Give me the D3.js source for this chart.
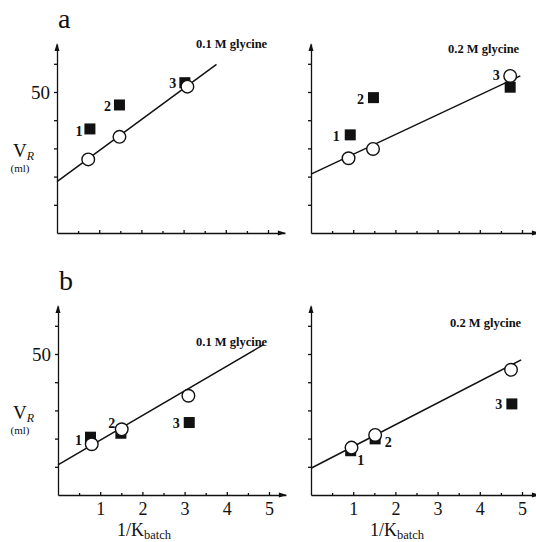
<!DOCTYPE html>
<html>
<head>
<meta charset="utf-8" />
<script src="https://d3js.org/d3.v7.min.js"></script>
<style>
  body { margin: 0; background: #fff; }
  svg text { font-family: "Liberation Serif", "Times New Roman", serif !important; fill: #111; }
</style>
</head>
<body>
<div id="chart"></div>
<script>
// axis ticks
const xTicks = [1, 2, 3, 4, 5];
const xMinorTicks = [0.5, 1.5, 2.5, 3.5, 4.5];
const yTicks = [10, 20, 30, 40, 50, 60];
const yLabelTicks = [50];
const pointNames = ["1", "2", "3"];

// a, 0.1 M glycine
const a1CircleX = [0.74, 1.48, 3.09];
const a1CircleY = [26.1, 34.1, 51.9];
const a1SquareX = [0.78, 1.48, 3.03];
const a1SquareY = [36.9, 45.4, 53.3];
const a1FitX = [0, 3.78];
const a1FitY = [18.2, 59.8];

// a, 0.2 M glycine
const a2CircleX = [0.89, 1.47, 4.72];
const a2CircleY = [26.5, 29.8, 55.7];
const a2SquareX = [0.93, 1.48, 4.72];
const a2SquareY = [34.8, 48.0, 51.7];
const a2FitX = [0, 4.96];
const a2FitY = [20.9, 55.7];

// b, 0.1 M glycine
const b1CircleX = [0.80, 1.51, 3.09];
const b1CircleY = [18.0, 23.3, 35.2];
const b1SquareX = [0.77, 1.49, 3.11];
const b1SquareY = [20.5, 21.9, 25.7];
const b1FitX = [0, 4.87];
const b1FitY = [10.7, 53.3];

// b, 0.2 M glycine
const b2CircleX = [0.96, 1.52, 4.74];
const b2CircleY = [16.8, 21.3, 44.4];
const b2SquareX = [0.94, 1.52, 4.76];
const b2SquareY = [15.7, 19.9, 32.3];
const b2FitX = [0, 4.98];
const b2FitY = [9.5, 47.9];

const zip = (xs, ys) => xs.map((x, i) => [x, ys[i]]);

// layout of the four panels (pixels)
const panels = [
  { letter: "a", title: "0.1 M glycine", left: 57, bottom: 233, yLabels: true, xLabels: false,
    titleX: 196, titleY: 48,
    circles: zip(a1CircleX, a1CircleY), squares: zip(a1SquareX, a1SquareY), fit: zip(a1FitX, a1FitY),
    labels: [{ on: "s", dx: -11, dy: 2 }, { on: "s", dx: -12, dy: 1 }, { on: "s", dx: -12, dy: 0 }] },
  { letter: null, title: "0.2 M glycine", left: 311, bottom: 233, yLabels: false, xLabels: false,
    titleX: 448, titleY: 53,
    circles: zip(a2CircleX, a2CircleY), squares: zip(a2SquareX, a2SquareY), fit: zip(a2FitX, a2FitY),
    labels: [{ on: "s", dx: -14, dy: 1 }, { on: "s", dx: -13, dy: 1 }, { on: "c", dx: -14, dy: -1 }] },
  { letter: "b", title: "0.1 M glycine", left: 58, bottom: 495, yLabels: true, xLabels: true,
    titleX: 196, titleY: 346,
    circles: zip(b1CircleX, b1CircleY), squares: zip(b1SquareX, b1SquareY), fit: zip(b1FitX, b1FitY),
    labels: [{ on: "s", dx: -12, dy: 3 }, { on: "c", dx: -10, dy: -6 }, { on: "s", dx: -13, dy: 1 }] },
  { letter: null, title: "0.2 M glycine", left: 311, bottom: 495, yLabels: false, xLabels: true,
    titleX: 450, titleY: 327,
    circles: zip(b2CircleX, b2CircleY), squares: zip(b2SquareX, b2SquareY), fit: zip(b2FitX, b2FitY),
    labels: [{ on: "s", dx: 10, dy: 9 }, { on: "s", dx: 13, dy: 3 }, { on: "s", dx: -13, dy: 0 }] }
];

const width = 536, height = 542;
const xUnit = 42.2, yUnit = 2.82;
const ink = "#111";
const serif = '"Liberation Serif", "Times New Roman", serif';

const svg = d3.select("#chart").append("svg")
  .attr("width", width).attr("height", height)
  .attr("font-family", serif);

panels.forEach(p => {
  const g = svg.append("g");
  const x = d3.scaleLinear().domain([0, 5.4]).range([p.left, p.left + 5.4 * xUnit]);
  const y = d3.scaleLinear().domain([0, 67]).range([p.bottom, p.bottom - 67 * yUnit]);

  // y axis
  const yAxis = g.append("g")
    .attr("transform", "translate(" + p.left + ",0)")
    .call(d3.axisLeft(y).tickValues(yTicks).tickSize(3).tickSizeOuter(0).tickPadding(4)
      .tickFormat(d => p.yLabels && yLabelTicks.includes(d) ? d : ""));
  yAxis.attr("font-family", serif);
  yAxis.selectAll("text").style("font-size", "19px");

  // x axis, ticks pointing up
  const xAxis = g.append("g")
    .attr("transform", "translate(0," + p.bottom + ")")
    .call(d3.axisBottom(x).tickValues(xTicks).tickSize(-3).tickSizeOuter(0).tickPadding(7)
      .tickFormat(d => p.xLabels ? d : ""));
  xAxis.attr("font-family", serif);
  xAxis.selectAll("text").style("font-size", "18px");
  g.append("g")
    .attr("transform", "translate(0," + p.bottom + ")")
    .call(d3.axisBottom(x).tickValues(xMinorTicks).tickSize(-2).tickSizeOuter(0).tickFormat(""))
    .select(".domain").remove();
  g.selectAll(".domain, .tick line").attr("stroke", ink).attr("stroke-width", 1.3);

  // arrow heads
  const yTop = y(67), xEnd = x(5.4);
  g.append("path")
    .attr("d", `M${p.left - 2.5},${yTop + 7}L${p.left},${yTop - 1}L${p.left + 2.5},${yTop + 7}Z`)
    .attr("fill", ink);
  g.append("path")
    .attr("d", `M${xEnd - 7},${p.bottom - 2.5}L${xEnd + 1},${p.bottom}L${xEnd - 7},${p.bottom + 2.5}Z`)
    .attr("fill", ink);

  // fitted line
  g.append("path")
    .datum(p.fit)
    .attr("fill", "none").attr("stroke", ink).attr("stroke-width", 1.5)
    .attr("d", d3.line().x(d => x(d[0])).y(d => y(d[1])));

  // squares then circles
  g.selectAll(".sq").data(p.squares).enter().append("rect")
    .attr("x", d => x(d[0]) - 5.5).attr("y", d => y(d[1]) - 5.5)
    .attr("width", 11).attr("height", 11).attr("fill", ink);
  g.selectAll(".ci").data(p.circles).enter().append("circle")
    .attr("cx", d => x(d[0])).attr("cy", d => y(d[1])).attr("r", 6.3)
    .attr("fill", "#fff").attr("stroke", ink).attr("stroke-width", 1.4);

  // point numbers
  p.labels.forEach((l, i) => {
    const pt = l.on === "s" ? p.squares[i] : p.circles[i];
    g.append("text")
      .attr("x", x(pt[0]) + l.dx).attr("y", y(pt[1]) + l.dy)
      .attr("dy", "0.35em").attr("text-anchor", "middle")
      .style("font-size", "14px").style("font-weight", "bold")
      .text(pointNames[i]);
  });

  // panel title
  g.append("text").attr("x", p.titleX).attr("y", p.titleY)
    .style("font-size", "12.5px").style("font-weight", "bold").text(p.title);

  if (p.letter) {
    g.append("text").attr("x", p.left + 1).attr("y", p.bottom - 205)
      .style("font-size", "28px").text(p.letter);
    const vr = g.append("text").attr("x", 13).attr("y", p.bottom - 76).style("font-size", "19px");
    vr.append("tspan").text("V");
    vr.append("tspan").attr("dy", 3).style("font-size", "12px").style("font-style", "italic").text("R");
    g.append("text").attr("x", 20).attr("y", p.bottom - 61).attr("text-anchor", "middle")
      .style("font-size", "11px").text("(ml)");
  }

  if (p.xLabels) {
    const xl = g.append("text").attr("x", p.left + 86).attr("y", p.bottom + 41)
      .attr("text-anchor", "middle").style("font-size", "18px");
    xl.append("tspan").text("1/K");
    xl.append("tspan").attr("dy", 3).style("font-size", "12.5px").text("batch");
  }
});
</script>
</body>
</html>
